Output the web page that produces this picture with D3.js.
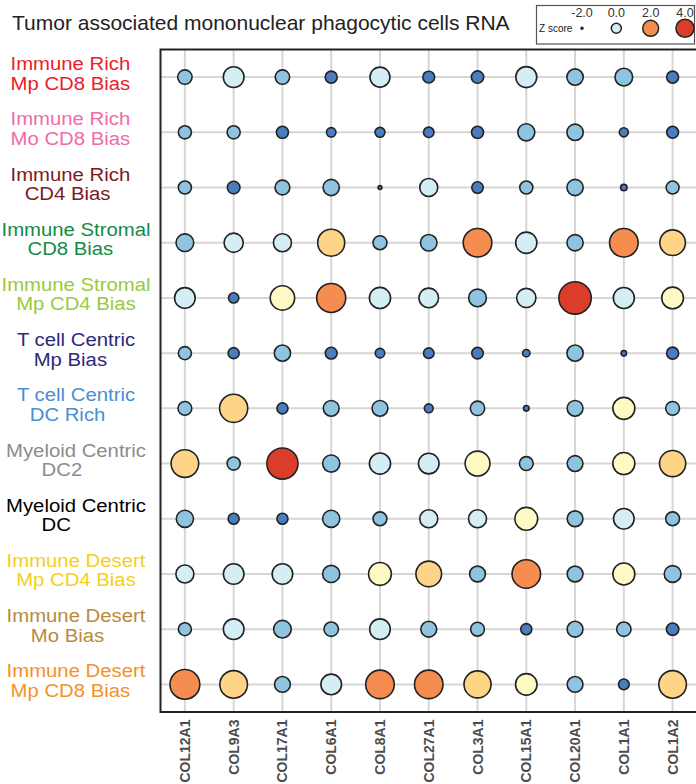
<!DOCTYPE html>
<html>
<head>
<meta charset="utf-8">
<script src="https://cdn.jsdelivr.net/npm/d3@7"></script>
<style>
  html, body { margin: 0; padding: 0; background: #ffffff; }
  svg { display: block; font-family: "Liberation Sans", Arial, Helvetica, sans-serif; }
</style>
</head>
<body>
<svg id="chart" width="696" height="784"></svg>
<script>
// Collagen genes (columns)
const genes = ["COL12A1", "COL9A3", "COL17A1", "COL6A1", "COL8A1", "COL27A1",
               "COL3A1", "COL15A1", "COL20A1", "COL1A1", "COL1A2"];

// Tumour subtypes (rows), each label split over two lines
const subtypes = [
  ["Immune Rich  ", "Mp CD8 Bias  "],
  ["Immune Rich  ", "Mo CD8 Bias  "],
  ["Immune Rich  ", "CD4 Bias   "],
  ["Immune Stromal", "CD8 Bias  "],
  ["Immune Stromal", "Mp CD4 Bias"],
  ["T cell Centric", "Mp Bias  "],
  ["T cell Centric", "DC Rich   "],
  ["Myeloid Centric", "DC2     "],
  ["Myeloid Centric", "DC       "],
  ["Immune Desert", "Mp CD4 Bias"],
  ["Immune Desert", "Mo Bias   "],
  ["Immune Desert", "Mp CD8 Bias  "]
];

const subtypeColors = ["#ec2028", "#f06ba8", "#7c1a1c", "#138b47", "#99ca3c", "#2c2a78",
                       "#4a8ed4", "#8c8c8c", "#000000", "#f6cf16", "#b98a3c", "#f6902a"];

// Z scores, one row per subtype, one value per gene
const zScores = [
  [-0.48,  0.58, -0.48, -0.81,  0.42, -0.84, -0.76,  0.62, -0.21, -0.03, -0.81],
  [-0.66, -0.66, -0.81, -1.17, -1.11, -1.03, -0.81, -0.12, -0.21, -1.23, -0.84],
  [-0.66, -0.72, -0.43, -0.23, -1.97,  0.02, -0.89, -0.66, -0.23, -1.61, -0.68],
  [-0.03,  0.26,  0.02,  1.74, -0.54, -0.19,  2.10,  0.66, -0.23,  2.10,  1.48],
  [ 0.54, -1.06,  1.25,  2.30,  0.66,  0.34, -0.03,  0.26,  4.00,  0.62,  0.75],
  [-0.66, -0.95, -0.23, -0.84, -1.17, -1.03, -0.89, -1.47, -0.23, -1.75, -0.81],
  [-0.56,  1.95, -0.95, -0.29, -0.29, -1.25, -0.48, -1.72, -0.29,  0.81, -0.56],
  [ 1.85, -0.66,  3.40, -0.10,  0.66,  0.54,  1.33, -0.56, -0.29,  0.81,  1.59],
  [-0.10, -0.95, -0.95, -0.10, -0.56,  0.02,  0.02,  0.96, -0.29,  0.54, -0.56],
  [ 0.02,  0.54,  0.54, -0.10,  0.96,  1.48, -0.29,  2.05, -0.29,  0.81, -0.15],
  [-0.67,  0.54, -0.04, -0.48,  0.54, -0.29, -0.56, -0.95, -0.29, -0.48, -0.76],
  [ 2.70,  1.85, -0.29,  0.54,  2.05,  2.05,  1.74,  0.72, -0.29, -1.00,  1.85]
];

const legendValues = [-2, 0, 2, 4];
const legendLabels = ["-2.0", "0.0", "2.0", "4.0"];

const title = "Tumor associated mononuclear phagocytic cells RNA";

// ---- scales ----
const svg = d3.select("#chart");

const x = d3.scaleBand().domain(genes).range([160.5, 697]);
const y = d3.scaleBand().domain(d3.range(subtypes.length)).range([49.5, 712]);
const cx = g => x(g) + x.bandwidth() / 2;
const cy = i => y(i) + y.bandwidth() / 2;

const zColor = d3.scaleThreshold()
  .domain([-0.7, 0, 0.7, 1.4, 2, 3])
  .range(["#4a7dc0", "#8ec4e0", "#d5edf4", "#fefac6", "#fed486", "#f58d50", "#dc3c2a"]);

const zRadius = d3.scaleLinear()
  .domain([-2, -0.7, 0, 0.7, 1.4, 2, 3, 4])
  .range([1.8, 6.4, 8.95, 10.7, 12.6, 14.2, 15.2, 16.2])
  .clamp(true);

// ---- title ----
svg.append("text")
  .attr("x", 12).attr("y", 30)
  .attr("font-size", 21).attr("fill", "#222")
  .text(title);

// ---- grid ----
const grid = svg.append("g").attr("stroke", "#d6d6d6").attr("stroke-width", 2);
grid.selectAll("line.v").data(genes).join("line")
  .attr("class", "v")
  .attr("x1", cx).attr("x2", cx)
  .attr("y1", y.range()[0]).attr("y2", y.range()[1]);
grid.selectAll("line.h").data(d3.range(subtypes.length)).join("line")
  .attr("class", "h")
  .attr("y1", cy).attr("y2", cy)
  .attr("x1", x.range()[0]).attr("x2", x.range()[1]);

// ---- frame ----
svg.append("rect")
  .attr("x", x.range()[0]).attr("y", y.range()[0])
  .attr("width", x.range()[1] - x.range()[0])
  .attr("height", y.range()[1] - y.range()[0])
  .attr("fill", "none").attr("stroke", "#222").attr("stroke-width", 2);

// ---- bubbles ----
const cells = zScores.flatMap((row, i) => row.map((z, j) => ({ i, gene: genes[j], z })));
svg.append("g").selectAll("circle").data(cells).join("circle")
  .attr("cx", d => cx(d.gene))
  .attr("cy", d => cy(d.i))
  .attr("r", d => zRadius(d.z))
  .attr("fill", d => zColor(d.z))
  .attr("stroke", "#222")
  .attr("stroke-width", 1.6);

// ---- gene axis ----
const xAxis = svg.append("g")
  .attr("transform", `translate(0,${y.range()[1]})`)
  .call(d3.axisBottom(x).tickSize(0));
xAxis.select(".domain").remove();
xAxis.selectAll("text")
  .attr("transform", "rotate(-90)")
  .attr("x", -7.5).attr("y", 0).attr("dy", "0.36em")
  .attr("text-anchor", "end")
  .attr("font-family", "'Liberation Sans', Arial, sans-serif")
  .attr("font-size", 14).attr("font-weight", "bold")
  .attr("fill", "#4d4d4d");

// ---- subtype labels: two lines each, slightly wide lettering ----
const labels = svg.append("g");
subtypes.forEach((lines, i) => {
  const g = labels.append("g")
    .attr("transform", `translate(76,${cy(i)}) scale(1.07,1)`)
    .attr("fill", subtypeColors[i])
    .attr("font-size", 19)
    .attr("text-anchor", "middle");
  lines.forEach((line, k) => {
    g.append("text")
      .attr("xml:space", "preserve")
      .style("white-space", "pre")
      .attr("x", 0)
      .attr("y", k === 0 ? -7 : 12.5)
      .text(line);
  });
});

// ---- legend ----
const legend = svg.append("g");
legend.append("rect")
  .attr("x", 536.5).attr("y", 5.5).attr("width", 158).attr("height", 38.5)
  .attr("fill", "#fff").attr("stroke", "#555").attr("stroke-width", 1.2);
legend.append("text")
  .attr("x", 539).attr("y", 31.5)
  .attr("font-size", 10).attr("fill", "#222")
  .text("Z score");
const lx = d3.scalePoint().domain(legendValues).range([582, 685]);
legend.selectAll("circle").data(legendValues).join("circle")
  .attr("cx", lx).attr("cy", 28.3)
  .attr("r", v => zRadius(v) * 0.56)
  .attr("fill", zColor)
  .attr("stroke", "#222").attr("stroke-width", 1.5);
legend.selectAll("text.lv").data(legendValues).join("text")
  .attr("class", "lv")
  .attr("x", lx).attr("y", 16.7)
  .attr("text-anchor", "middle")
  .attr("font-size", 12.5).attr("fill", "#333")
  .text((v, k) => legendLabels[k]);
</script>
</body>
</html>
